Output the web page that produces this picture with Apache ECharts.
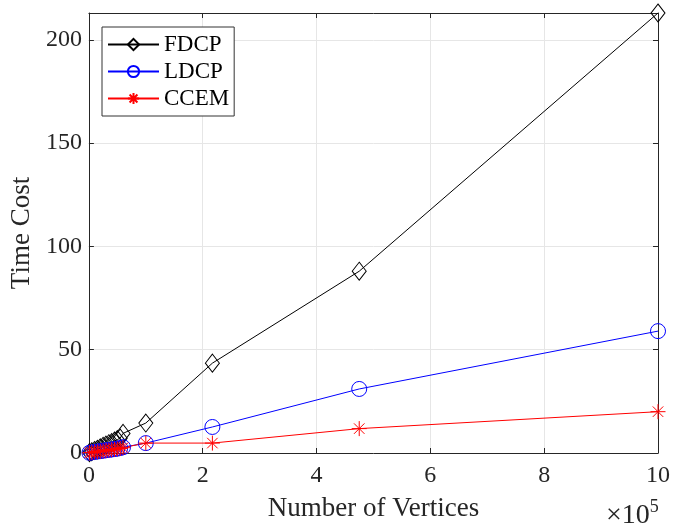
<!DOCTYPE html>
<html>
<head>
<meta charset="utf-8">
<script src="https://cdn.jsdelivr.net/npm/echarts@6/dist/echarts.min.js"></script>
<style>
  html, body { margin: 0; padding: 0; background: #fff; }
  #chart { width: 673px; height: 528px; }
</style>
</head>
<body>
<div id="chart"></div>
<script>
// vertices count for each test graph
const vertices = [1000, 5000, 10000, 15000, 20000, 25000, 30000, 35000, 40000, 45000, 50000, 55000, 60000, 100000, 217000, 475000, 1000000];
const fdcp = [0.2, 0.6, 1.2, 1.8, 2.5, 3.2, 3.8, 4.5, 5.0, 5.8, 6.5, 7.2, 9.5, 14.5, 43.5, 88, 213];
const ldcp = [0.1, 0.3, 0.5, 0.7, 0.9, 1.1, 1.3, 1.5, 1.7, 1.9, 2.1, 2.4, 2.8, 4.8, 12.6, 31, 59];
const ccem = [0.1, 0.3, 0.5, 0.6, 0.8, 1.0, 1.2, 1.4, 1.6, 1.8, 2.0, 2.2, 2.6, 4.8, 4.8, 11.8, 20];
const xTicks = [0, 2, 4, 6, 8, 10];

const FONT = '"Liberation Serif", "DejaVu Serif", serif';
const AXIS_COLOR = '#262626';
const STAR = 'path://M0,-10L0,10M-10,0L10,0M-7,-7L7,7M-7,7L7,-7';

const pairs = (ys) => vertices.map((v, i) => [v, ys[i]]);

const chart = echarts.init(document.getElementById('chart'));

// 공통 축 스타일
const axisBase = {
  type: 'value',
  axisLine: { show: true, onZero: false, lineStyle: { color: AXIS_COLOR, width: 1 } },
  axisTick: { show: true, inside: true, length: 5, lineStyle: { color: AXIS_COLOR } },
};

const mkSeries = (name, ys, color, symbol, size) => ({
  name,
  type: 'line',
  data: pairs(ys),
  symbol,
  symbolSize: size,
  clip: false,
  lineStyle: { color, width: 1 },
  itemStyle: { color: 'rgba(0,0,0,0)', borderColor: color, borderWidth: 1 },
  emphasis: { disabled: true },
  z: 3,
});

const option = {
  animation: false,
  textStyle: { fontFamily: FONT },
  grid: { left: 87, right: 13, top: 13, bottom: 75 },
  legend: {
    orient: 'vertical',
    left: 102,
    top: 27,
    itemWidth: 51,
    itemHeight: 14,
    itemGap: 4,
    padding: [6, 5, 6, 5],
    borderColor: '#333',
    borderWidth: 1,
    backgroundColor: '#fff',
    textStyle: { fontFamily: FONT, fontSize: 23, color: '#000' },
    data: ['FDCP', 'LDCP', 'CCEM'],
  },
  xAxis: [
    {
      ...axisBase,
      min: 0,
      max: 1000000,
      interval: 200000,
      name: 'Number of Vertices',
      nameLocation: 'middle',
      nameGap: 42,
      nameTextStyle: { fontFamily: FONT, fontSize: 27, color: AXIS_COLOR },
      axisLabel: {
        fontFamily: FONT, fontSize: 24, color: AXIS_COLOR, margin: 11,
        formatter: (v) => {
          const t = Math.round(v / 100000);
          return xTicks.includes(t) ? String(t) : '';
        },
      },
      splitLine: { show: true, lineStyle: { color: '#e6e6e6', width: 1 } },
    },
    {
      ...axisBase,
      position: 'top',
      min: 0,
      max: 1000000,
      interval: 200000,
      axisLabel: { show: false },
      splitLine: { show: false },
    },
  ],
  yAxis: [
    {
      ...axisBase,
      min: 0,
      max: 213,
      interval: 50,
      name: 'Time Cost',
      nameLocation: 'middle',
      nameGap: 49,
      nameTextStyle: { fontFamily: FONT, fontSize: 27, color: AXIS_COLOR },
      axisLabel: { fontFamily: FONT, fontSize: 24, color: AXIS_COLOR, margin: 7, showMaxLabel: false },
      splitLine: { show: true, lineStyle: { color: '#e6e6e6', width: 1 } },
    },
    {
      ...axisBase,
      position: 'right',
      min: 0,
      max: 213,
      interval: 50,
      axisLabel: { show: false },
      splitLine: { show: false },
    },
  ],
  graphic: [
    {
      type: 'text',
      left: 606,
      top: 498,
      style: {
        text: '{a|×10}{b|5}',
        rich: {
          a: { fontFamily: FONT, fontSize: 28, fill: AXIS_COLOR, verticalAlign: 'bottom' },
          b: { fontFamily: FONT, fontSize: 18, fill: AXIS_COLOR, verticalAlign: 'top', padding: [0, 0, 14, 0] },
        },
      },
    },
  ],
  series: [
    mkSeries('FDCP', fdcp, '#000000', 'diamond', [14, 18]),
    mkSeries('LDCP', ldcp, '#0000ff', 'circle', 15),
    mkSeries('CCEM', ccem, '#ff0000', STAR, 15),
  ],
};

chart.setOption(option);
</script>
</body>
</html>
